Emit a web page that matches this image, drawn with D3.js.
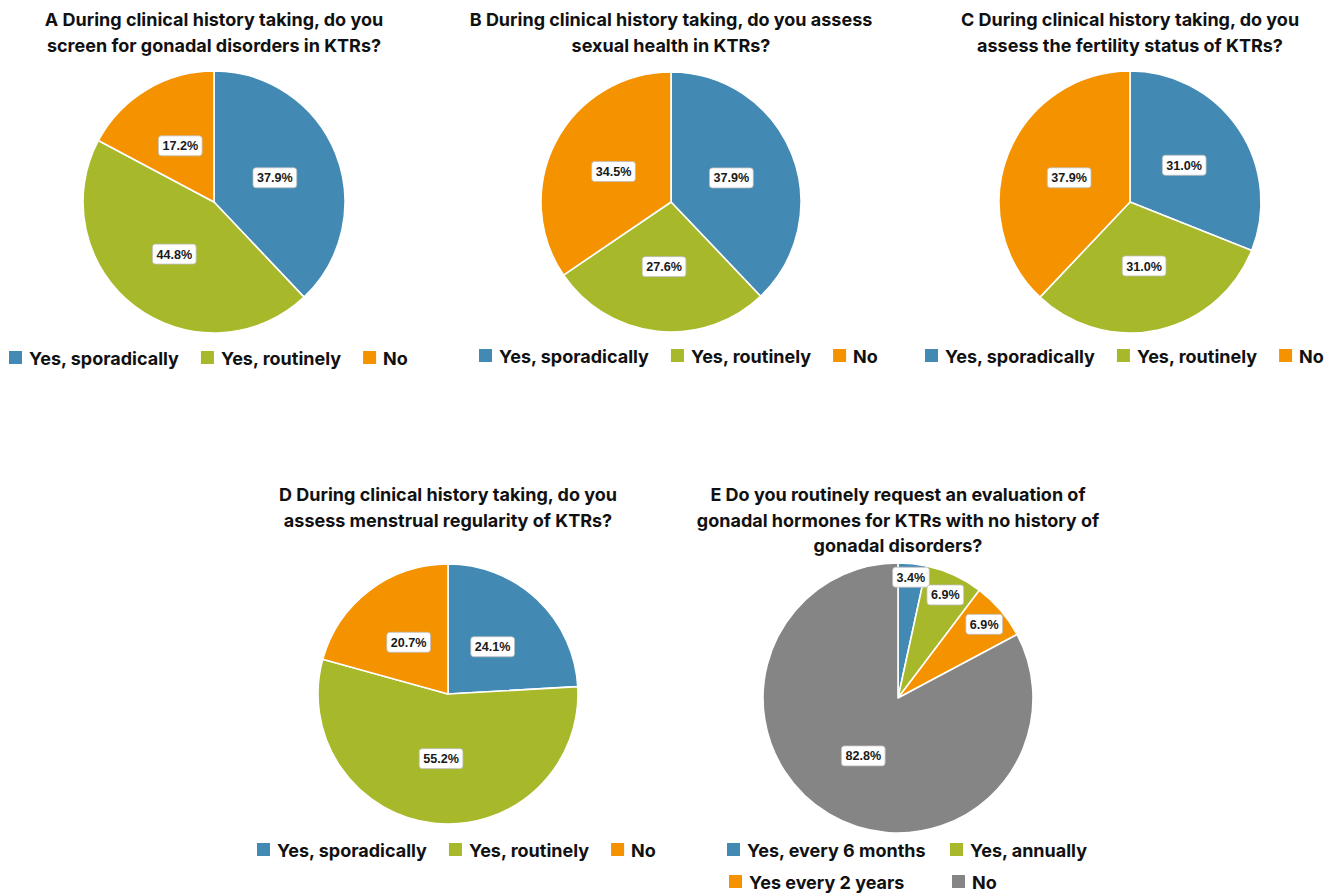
<!DOCTYPE html>
<html><head><meta charset="utf-8">
<script src="https://cdn.jsdelivr.net/npm/d3@7"></script>
<style>
html,body{margin:0;padding:0;background:#fff;}
svg{display:block;}
</style></head>
<body>
<svg id="chart" width="1338" height="894"></svg>
<script>
// ---- data ----
const titlesA = ["A During clinical history taking, do you", "screen for gonadal disorders in KTRs?"];
const titlesB = ["B During clinical history taking, do you assess", "sexual health in KTRs?"];
const titlesC = ["C During clinical history taking, do you", "assess the fertility status of KTRs?"];
const titlesD = ["D During clinical history taking, do you", "assess menstrual regularity of KTRs?"];
const titlesE = ["E Do you routinely request an evaluation of", "gonadal hormones for KTRs with no history of", "gonadal disorders?"];

const categoriesABCD = ["Yes, sporadically", "Yes, routinely", "No"];
const categoriesE = ["Yes, every 6 months", "Yes, annually", "Yes every 2 years", "No"];

const valuesA = [37.9, 44.8, 17.2];
const valuesB = [37.9, 27.6, 34.5];
const valuesC = [31.0, 31.0, 37.9];
const valuesD = [24.1, 55.2, 20.7];
const valuesE = [3.4, 6.9, 6.9, 82.8];

const colorsABCD = ["#428ab4", "#a7b82a", "#f49200"];
const colorsE = ["#428ab4", "#a7b82a", "#f49200", "#858585"];

// ---- layout ----
const panels = [
  {title: titlesA, cats: categoriesABCD, vals: valuesA, cols: colorsABCD, cx: 214, cy: 202, r: 131, titleY: 26, legendX: 9, legendY: 359, rows: [[0,1,2]]},
  {title: titlesB, cats: categoriesABCD, vals: valuesB, cols: colorsABCD, cx: 671, cy: 202, r: 130, titleY: 26, legendX: 479, legendY: 357, rows: [[0,1,2]]},
  {title: titlesC, cats: categoriesABCD, vals: valuesC, cols: colorsABCD, cx: 1130, cy: 202, r: 131, titleY: 26, legendX: 925, legendY: 357, rows: [[0,1,2]]},
  {title: titlesD, cats: categoriesABCD, vals: valuesD, cols: colorsABCD, cx: 448, cy: 694, r: 130, titleY: 501, legendX: 257, legendY: 851, rows: [[0,1,2]]},
  {title: titlesE, cats: categoriesE, vals: valuesE, cols: colorsE, cx: 898, cy: 698, r: 135, titleY: 501, legendX: 727, legendY: 851, rows: [[0,1],[2,3]], colX: [0, 223], rowGap: 32}
];

const svg = d3.select("#chart");
const titleFont = "Inter, 'Open Sans', sans-serif";
const labelFont = "'Liberation Sans', Arial, sans-serif";

panels.forEach(p => {
  const g = svg.append("g");
  // title
  const t = g.append("text")
    .attr("x", p.cx).attr("y", p.titleY)
    .attr("text-anchor", "middle")
    .style("font-family", titleFont).style("font-weight", 700).style("font-size", "18px")
    .style("fill", "#111");
  p.title.forEach((line, i) => {
    t.append("tspan").attr("x", p.cx).attr("dy", i === 0 ? 0 : 25.5).text(line);
  });

  const total = d3.sum(p.vals);
  const pie = d3.pie().sort(null).value(d => d)(p.vals);
  const arc = d3.arc().innerRadius(0).outerRadius(p.r);
  const pg = g.append("g").attr("transform", `translate(${p.cx},${p.cy})`);
  pg.selectAll("path").data(pie).join("path")
    .attr("d", arc)
    .attr("fill", (d, i) => p.cols[i])
    .attr("stroke", "#fff").attr("stroke-width", 1.6).attr("stroke-linejoin", "round");

  // labels
  pie.forEach((d, i) => {
    const frac = d.value / total;
    const rf = frac < 0.05 ? 0.9 : (frac < 0.1 ? 0.84 : 0.5);
    const a = (d.startAngle + d.endAngle) / 2;
    const x = Math.sin(a) * p.r * rf, y = -Math.cos(a) * p.r * rf;
    const lg = pg.append("g").attr("transform", `translate(${x},${y})`);
    const txt = lg.append("text")
      .attr("text-anchor", "middle").attr("dy", "0.36em")
      .style("font-family", labelFont).style("font-weight", 700).style("font-size", "12.6px")
      .style("fill", "#1a1a1a")
      .text(d.value.toFixed(1) + "%");
    const w = txt.node().getComputedTextLength();
    lg.insert("rect", "text")
      .attr("x", -w/2 - 4).attr("y", -10).attr("width", w + 8).attr("height", 20)
      .attr("rx", 3).attr("fill", "#fff").attr("stroke", "#bdbdbd").attr("stroke-width", 0.8);
  });

  // legend
  const lgd = g.append("g");
  p.rows.forEach((row, ri) => {
    let x = p.legendX;
    const y = p.legendY + ri * (p.rowGap || 0);
    row.forEach((ci, k) => {
      if (p.colX) x = p.legendX + p.colX[k] + (ri === 1 ? 2 : 0);
      lgd.append("rect").attr("x", x).attr("y", y - 8).attr("width", 13).attr("height", 13).attr("fill", p.cols[ci]);
      const tt = lgd.append("text").attr("x", x + 20).attr("y", y).attr("dy", "0.35em")
        .style("font-family", titleFont).style("font-weight", 700).style("font-size", "18px")
        .style("fill", "#111").text(p.cats[ci]);
      x += 20 + tt.node().getComputedTextLength() + 22;
    });
  });
});
</script>
</body></html>
